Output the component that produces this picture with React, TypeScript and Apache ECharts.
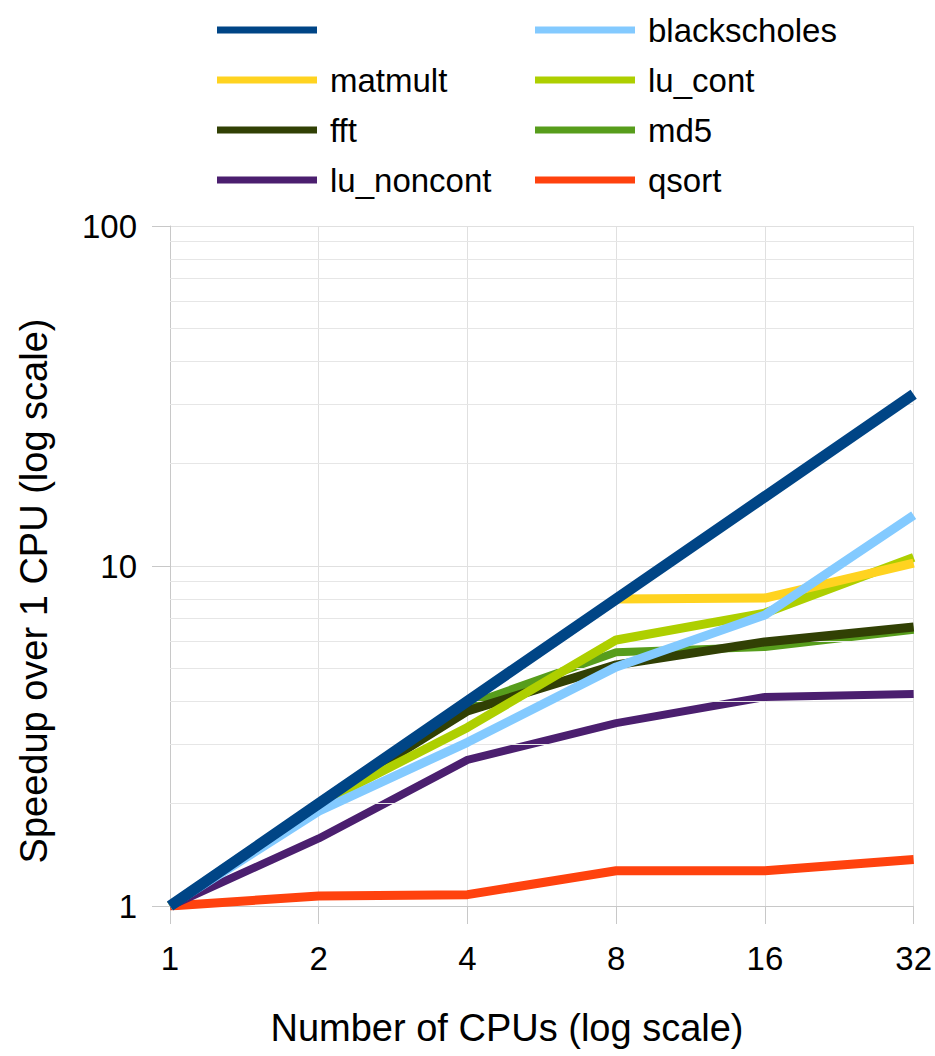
import React, { useEffect, useRef } from "react";
import * as echarts from "echarts";

const cpus = [1, 2, 4, 8, 16, 32];
const ideal = [1, 2, 4, 8, 16, 32];
const matmult = [1, 2, 4, 8, 8.05, 10.2];
const fft = [1, 2, 3.75, 5.12, 5.98, 6.62];
const luNoncont = [1, 1.58, 2.69, 3.45, 4.12, 4.2];
const blackscholes = [1, 1.9, 3.03, 5.05, 7.18, 14.1];
const luCont = [1, 2, 3.35, 6.06, 7.27, 10.6];
const md5 = [1, 2, 3.9, 5.58, 5.78, 6.49];
const qsort = [1, 1.07, 1.08, 1.27, 1.27, 1.37];
const minorGrid = [2, 3, 4, 5, 6, 7, 8, 9, 20, 30, 40, 50, 60, 70, 80, 90];

const FONT = "Liberation Sans";

const pairs = (ys: number[]) => cpus.map((x, i) => [x, ys[i]]);

export default function App() {
  const ref = useRef<HTMLDivElement>(null);
  useEffect(() => {
    const chart = echarts.init(ref.current!, null, { renderer: "svg" });
    const line = (name: string, data: number[], color: string, width: number, z: number) => ({
      type: "line",
      name,
      data: pairs(data),
      symbol: "none",
      z,
      lineStyle: { color, width },
      itemStyle: { color },
    });
    const legendCommon = {
      orient: "vertical",
      top: 7,
      itemWidth: 100,
      itemHeight: 7,
      itemGap: 14,
      icon: "rect",
      textStyle: {
        fontFamily: FONT,
        fontSize: 33,
        color: "#000",
        lineHeight: 36,
        height: 36,
        padding: [0, 0, 0, 8],
      },
      formatter: (n: string) => (n === "ideal" ? "\u00a0" : n),
    };
    chart.setOption({
      animation: false,
      backgroundColor: "#fff",
      textStyle: { fontFamily: FONT },
      legend: [
        { ...legendCommon, left: 212, data: ["ideal", "matmult", "fft", "lu_noncont"] },
        { ...legendCommon, left: 530, data: ["blackscholes", "lu_cont", "md5", "qsort"] },
      ],
      grid: { left: 170, right: 19, top: 226, bottom: 150 },
      xAxis: {
        type: "log",
        logBase: 2,
        min: 1,
        max: 32,
        axisLine: { lineStyle: { color: "#c8c8c8" } },
        axisTick: { show: true, length: 18, lineStyle: { color: "#c8c8c8" } },
        axisLabel: {
          fontFamily: FONT,
          fontSize: 33,
          color: "#000",
          margin: 36,
          formatter: (v: number) => String(Math.round(v)),
        },
        splitLine: { show: true, lineStyle: { color: "#e0e0e0" } },
      },
      yAxis: {
        type: "log",
        logBase: 10,
        min: 1,
        max: 100,
        axisLine: { show: true, lineStyle: { color: "#c8c8c8" } },
        axisTick: { show: true, length: 18, lineStyle: { color: "#c8c8c8" } },
        axisLabel: {
          fontFamily: FONT,
          fontSize: 33,
          color: "#000",
          margin: 33,
          formatter: (v: number) => String(Math.round(v)),
        },
        splitLine: { show: true, lineStyle: { color: "#e0e0e0" } },
      },
      graphic: [
        {
          type: "text",
          x: 507,
          y: 1028,
          style: {
            text: "Number of CPUs (log scale)",
            fontFamily: FONT,
            fontSize: 38,
            fill: "#000",
            align: "center",
            verticalAlign: "middle",
          },
        },
        {
          type: "text",
          x: 34,
          y: 591,
          rotation: Math.PI / 2,
          style: {
            text: "Speedup over 1 CPU (log scale)",
            fontFamily: FONT,
            fontSize: 38,
            fill: "#000",
            align: "center",
            verticalAlign: "middle",
          },
        },
      ],
      series: [
        {
          type: "line",
          name: "grid-minor",
          data: [],
          silent: true,
          markLine: {
            silent: true,
            symbol: "none",
            label: { show: false },
            lineStyle: { color: "#e6e6e6", width: 1, type: "solid" },
            data: minorGrid.map((v) => ({ yAxis: v })),
          },
          z: 0,
        },
        line("qsort", qsort, "#ff420e", 9, 2),
        line("lu_noncont", luNoncont, "#4b1f6f", 8, 3),
        line("md5", md5, "#579d1c", 8, 4),
        line("fft", fft, "#314004", 9, 5),
        line("lu_cont", luCont, "#aecf00", 9, 6),
        line("matmult", matmult, "#ffd320", 9, 7),
        line("blackscholes", blackscholes, "#83caff", 9, 8),
        line("ideal", ideal, "#004586", 11, 9),
      ],
    });
    return () => chart.dispose();
  }, []);
  return <div ref={ref} style={{ width: 935, height: 1056, position: "absolute", left: 0, top: 0 }} />;
}
